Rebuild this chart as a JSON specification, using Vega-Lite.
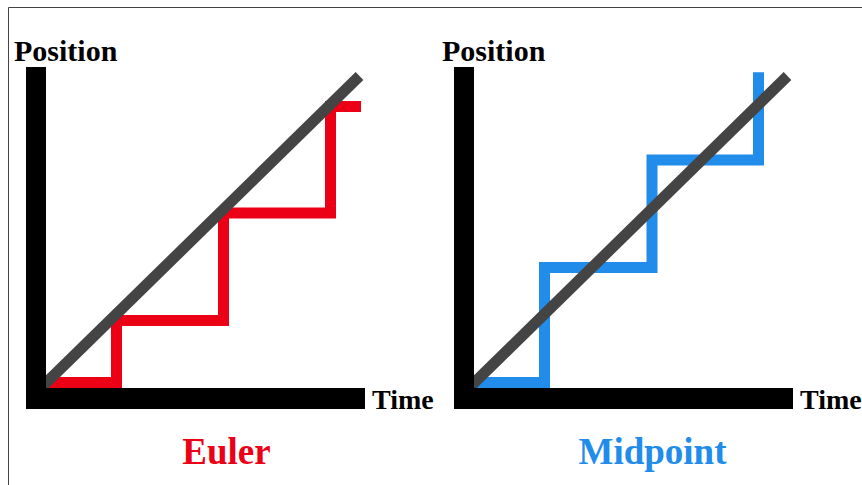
{
  "$schema": "https://vega.github.io/schema/vega-lite/v6.json",
  "padding": {"left": 8, "top": 7, "right": 0, "bottom": 0},
  "autosize": {"type": "pad"},
  "background": "white",
  "config": {"view": {"stroke": null}},
  "datasets": {
    "euler": [
      {"t": 0, "p": 0.55},
      {"t": 7.05, "p": 6.75},
      {"t": 17.75, "p": 17.5},
      {"t": 28.45, "p": 28.15},
      {"t": 31.5, "p": 28.15}
    ],
    "midpoint": [
      {"t": 0, "p": 0.55},
      {"t": 7.05, "p": 12.05},
      {"t": 17.8, "p": 22.8},
      {"t": 28.45, "p": 31.57}
    ],
    "exact": [
      {"t": -1, "p": -0.48},
      {"t": 31.35, "p": 31.2}
    ]
  },
  "spacing": 89,
  "bounds": "flush",
  "hconcat": [
    {
      "width": 339,
      "height": 342,
      "layer": [
        {
          "data": {"values": [{}]},
          "mark": {"type": "rule", "color": "#444444", "strokeWidth": 1, "clip": false},
          "encoding": {
            "x": {"datum": -3.75, "type": "quantitative", "scale": {"domain": [-2, 31.9], "nice": false, "zero": false}, "axis": null},
            "x2": {"datum": 90},
            "y": {"datum": 38.05, "type": "quantitative", "scale": {"domain": [-2.1, 32.1], "nice": false, "zero": false}, "axis": null}
          }
        },
        {
          "data": {"values": [{}]},
          "mark": {"type": "rule", "color": "#444444", "strokeWidth": 1, "clip": false},
          "encoding": {
            "x": {"datum": -3.75, "type": "quantitative"},
            "y": {"datum": 38.05, "type": "quantitative"},
            "y2": {"datum": -12}
          }
        },
        {
          "data": {"name": "euler"},
          "mark": {"type": "line", "interpolate": "step-after", "color": "#EC0016", "strokeWidth": 11, "strokeCap": "butt", "strokeJoin": "miter", "clip": false},
          "encoding": {
            "x": {"field": "t", "type": "quantitative"},
            "y": {"field": "p", "type": "quantitative"}
          }
        },
        {
          "data": {"name": "exact"},
          "mark": {"type": "line", "color": "#444444", "strokeWidth": 11, "strokeCap": "butt", "clip": false},
          "encoding": {
            "x": {"field": "t", "type": "quantitative"},
            "y": {"field": "p", "type": "quantitative"}
          }
        },
        {
          "data": {"values": [{}]},
          "mark": {"type": "rect", "color": "black", "clip": false},
          "encoding": {
            "x": {"datum": -2, "type": "quantitative"},
            "x2": {"datum": 0},
            "y": {"datum": -2.1, "type": "quantitative"},
            "y2": {"datum": 32.1}
          }
        },
        {
          "data": {"values": [{}]},
          "mark": {"type": "rect", "color": "black", "clip": false},
          "encoding": {
            "x": {"datum": -2, "type": "quantitative"},
            "x2": {"datum": 31.9},
            "y": {"datum": -2.1, "type": "quantitative"},
            "y2": {"datum": 0}
          }
        },
        {
          "data": {"values": [{}]},
          "mark": {"type": "text", "text": "Position", "font": "Liberation Serif", "fontWeight": "bold", "fontSize": 30, "align": "left", "baseline": "alphabetic", "color": "black"},
          "encoding": {
            "x": {"datum": -3.2, "type": "quantitative"},
            "y": {"datum": 32.7, "type": "quantitative"}
          }
        },
        {
          "data": {"values": [{}]},
          "mark": {"type": "text", "text": "Time", "font": "Liberation Serif", "fontWeight": "bold", "fontSize": 28, "align": "left", "baseline": "alphabetic", "color": "black"},
          "encoding": {
            "x": {"datum": 32.6, "type": "quantitative"},
            "y": {"datum": -2.05, "type": "quantitative"}
          }
        },
        {
          "data": {"values": [{}]},
          "mark": {"type": "text", "text": "Euler", "font": "Liberation Serif", "fontWeight": "bold", "fontSize": 37, "align": "center", "baseline": "alphabetic", "color": "#EC0016"},
          "encoding": {
            "x": {"datum": 18.04, "type": "quantitative"},
            "y": {"datum": -7.6, "type": "quantitative"}
          }
        }
      ]
    },
    {
      "width": 339,
      "height": 342,
      "layer": [
        {
          "data": {"name": "midpoint"},
          "mark": {"type": "line", "interpolate": "step-after", "color": "#228CEB", "strokeWidth": 11, "strokeCap": "butt", "strokeJoin": "miter", "clip": false},
          "encoding": {
            "x": {"field": "t", "type": "quantitative", "scale": {"domain": [-2, 31.9], "nice": false, "zero": false}, "axis": null},
            "y": {"field": "p", "type": "quantitative", "scale": {"domain": [-2.1, 32.1], "nice": false, "zero": false}, "axis": null}
          }
        },
        {
          "data": {"name": "exact"},
          "mark": {"type": "line", "color": "#444444", "strokeWidth": 11, "strokeCap": "butt", "clip": false},
          "encoding": {
            "x": {"field": "t", "type": "quantitative"},
            "y": {"field": "p", "type": "quantitative"}
          }
        },
        {
          "data": {"values": [{}]},
          "mark": {"type": "rect", "color": "black", "clip": false},
          "encoding": {
            "x": {"datum": -2, "type": "quantitative"},
            "x2": {"datum": 0},
            "y": {"datum": -2.1, "type": "quantitative"},
            "y2": {"datum": 32.1}
          }
        },
        {
          "data": {"values": [{}]},
          "mark": {"type": "rect", "color": "black", "clip": false},
          "encoding": {
            "x": {"datum": -2, "type": "quantitative"},
            "x2": {"datum": 31.9},
            "y": {"datum": -2.1, "type": "quantitative"},
            "y2": {"datum": 0}
          }
        },
        {
          "data": {"values": [{}]},
          "mark": {"type": "text", "text": "Position", "font": "Liberation Serif", "fontWeight": "bold", "fontSize": 30, "align": "left", "baseline": "alphabetic", "color": "black"},
          "encoding": {
            "x": {"datum": -3.2, "type": "quantitative"},
            "y": {"datum": 32.7, "type": "quantitative"}
          }
        },
        {
          "data": {"values": [{}]},
          "mark": {"type": "text", "text": "Time", "font": "Liberation Serif", "fontWeight": "bold", "fontSize": 28, "align": "left", "baseline": "alphabetic", "color": "black"},
          "encoding": {
            "x": {"datum": 32.6, "type": "quantitative"},
            "y": {"datum": -2.05, "type": "quantitative"}
          }
        },
        {
          "data": {"values": [{}]},
          "mark": {"type": "text", "text": "Midpoint", "font": "Liberation Serif", "fontWeight": "bold", "fontSize": 37, "align": "center", "baseline": "alphabetic", "color": "#228CEB"},
          "encoding": {
            "x": {"datum": 17.85, "type": "quantitative"},
            "y": {"datum": -7.6, "type": "quantitative"}
          }
        }
      ]
    }
  ]
}
